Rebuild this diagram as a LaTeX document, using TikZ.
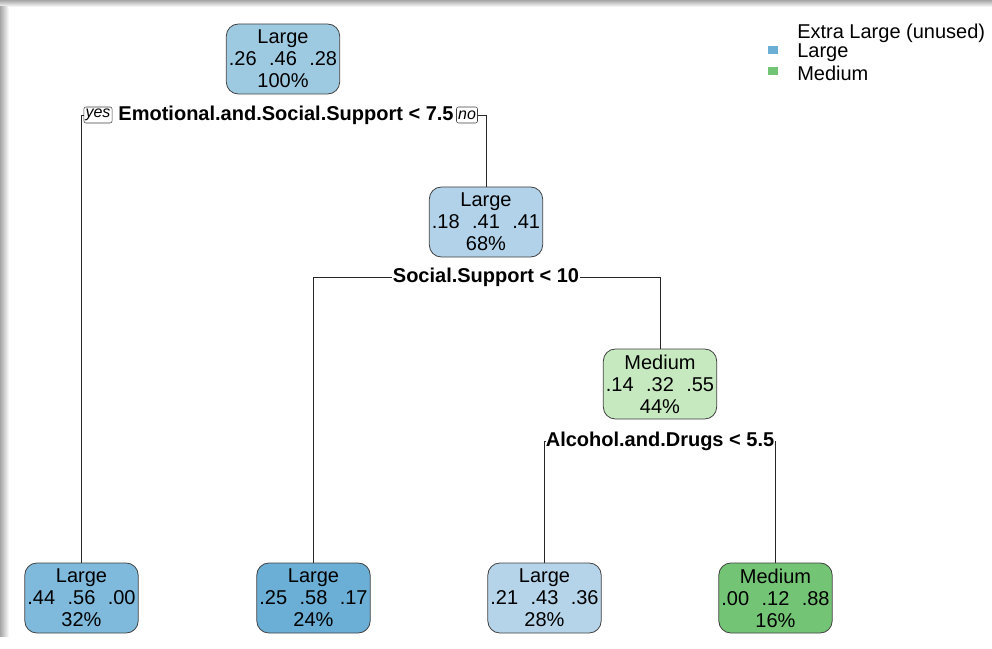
\documentclass[tikz,border=0pt]{standalone}
\usepackage{fontspec}
\setmainfont{Liberation Sans}
\usepackage{tikz}
\usetikzlibrary{arrows.meta}

\definecolor{rootblue}{RGB}{158,202,225}
\definecolor{midblue}{RGB}{178,210,233}
\definecolor{paleblue}{RGB}{181,212,233}
\definecolor{leafblue}{RGB}{127,186,220}
\definecolor{deepblue}{RGB}{107,174,214}
\definecolor{palegreen}{RGB}{199,233,192}
\definecolor{deepgreen}{RGB}{116,196,118}

\newcommand{\gap}{\hspace{0.62em}}

\begin{document}
\begin{tikzpicture}[x=0.75pt,y=-0.75pt,
    leaf/.style={draw=black!75,line width=0.6pt,rounded corners=9pt,
      minimum width=85pt,minimum height=52.5pt,inner sep=0pt,align=center,
      font=\fontsize{15}{16.5}\selectfont},
    split/.style={fill=white,inner sep=0.4pt,font=\fontsize{15}{16}\selectfont\bfseries},
    tag/.style={draw=black!75,fill=white,rounded corners=1.5pt,inner sep=1.2pt,
      minimum height=12pt,font=\fontsize{12}{13}\selectfont\itshape},
    key/.style={inner sep=0pt,minimum width=8pt,minimum height=6pt}]
      \useasboundingbox (0,0) rectangle (992,649);
      % screenshot shadow
      \shade[top color=black!35,bottom color=white] (0,0) rectangle (992,7);
      \shade[left color=black!35,right color=white] (0,7) rectangle (9,636);
      % tree boxes
      \node[leaf,fill=rootblue] (n1) at (283,59) {Large\\.26\gap.46\gap.28\\100\%};
      \node[leaf,fill=midblue] (n2) at (486,222) {Large\\.18\gap.41\gap.41\\68\%};
      \node[leaf,fill=palegreen] (n3) at (660,384) {Medium\\.14\gap.32\gap.55\\44\%};
      \node[leaf,fill=leafblue] (l1) at (81.5,598) {Large\\.44\gap.56\gap.00\\32\%};
      \node[leaf,fill=deepblue] (l2) at (313.5,598) {Large\\.25\gap.58\gap.17\\24\%};
      \node[leaf,fill=paleblue] (l3) at (544.5,598) {Large\\.21\gap.43\gap.36\\28\%};
      \node[leaf,fill=deepgreen] (l4) at (775.5,598) {Medium\\.00\gap.12\gap.88\\16\%};
      % split labels
      \node[split] (s1) at (286,115) {Emotional.and.Social.Support < 7.5};
      \node[split] (s2) at (486,277) {Social.Support < 10};
      \node[split] (s3) at (660,441) {Alcohol.and.Drugs < 5.5};
      \node[tag] (yes) at (98,115) {yes};
      \node[tag] (no) at (467,115) {no};
      % branches
      \draw[black!85] (l1.north) |- (yes.west);
      \draw[black!85] (n2.north) |- (no.east);
      \draw[black!85] (l2.north) |- (s2.west);
      \draw[black!85] (n3.north) |- (s2.east);
      \draw[black!85] (l3.north) |- (s3.west);
      \draw[black!85] (l4.north) |- (s3.east);
      % legend
      \node[anchor=west,inner sep=0pt,font=\fontsize{15}{16}\selectfont] (k0) at (797,33) {Extra Large (unused)};
      \node[anchor=west,inner sep=0pt,font=\fontsize{15}{16}\selectfont] (k1) at (797,53) {Large};
      \node[anchor=west,inner sep=0pt,font=\fontsize{15}{16}\selectfont] (k2) at (797,73) {Medium};
      \node[key,fill=deepblue] (b1) at (773,50) {};
      \node[key,fill=deepgreen] (b2) at (773,71) {};
    \end{tikzpicture}
\end{document}
